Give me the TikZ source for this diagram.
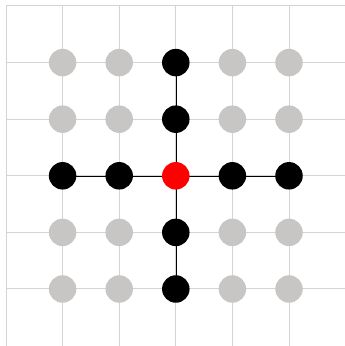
\documentclass[tikz,border=0pt]{standalone}
\usetikzlibrary{backgrounds}
\definecolor{gridgray}{RGB}{212,212,212}
\definecolor{dotgray}{RGB}{200,198,196}
\definecolor{dotred}{RGB}{255,0,0}
\tikzset{
  gridline/.style={draw=gridgray, line width=1pt},
  dot/.style={circle, minimum size=27.5pt, inner sep=0pt, fill=dotgray},
  active/.style={dot, fill=black},
  centerdot/.style={dot, fill=dotred},
  link/.style={draw=black, line width=1.8pt}
}
\begin{document}
\begin{tikzpicture}[x=1pt,y=1pt]
\useasboundingbox (0,0) rectangle (345,346);
% grid
\begin{scope}
\clip (0,0) rectangle (345,346);
\foreach \i in {0,...,5} {
  \draw[gridline] ({6+56.6*\i},0) -- ({6+56.6*\i},340);
  \draw[gridline] (6,{340-56.6*\i}) -- (346,{340-56.6*\i});
}
\end{scope}
% nodes
\foreach \c in {1,...,5} {
  \foreach \r in {1,...,5} {
    \pgfmathsetmacro{\xx}{6+56.6*\c}
    \pgfmathsetmacro{\yy}{340-56.6*\r}
    \ifnum\c=3
      \ifnum\r=3
        \node[centerdot] (n\r\c) at (\xx,\yy) {};
      \else
        \node[active] (n\r\c) at (\xx,\yy) {};
      \fi
    \else
      \ifnum\r=3
        \node[active] (n\r\c) at (\xx,\yy) {};
      \else
        \node[dot] (n\r\c) at (\xx,\yy) {};
      \fi
    \fi
  }
}
\begin{scope}[on background layer]
\draw[link] (n31.center) -- (n35.center);
\draw[link] (n13.center) -- (n53.center);
\end{scope}
\end{tikzpicture}
\end{document}
